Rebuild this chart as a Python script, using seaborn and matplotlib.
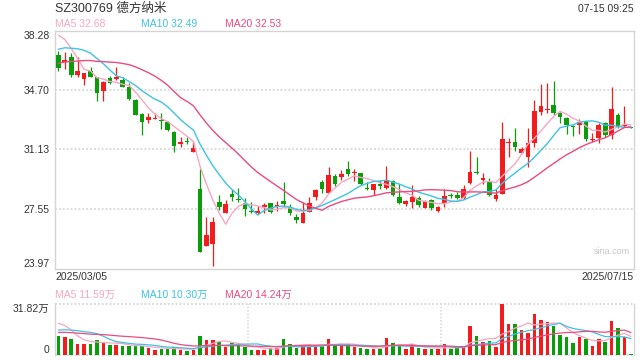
import numpy as np
import pandas as pd
import matplotlib
matplotlib.use("Agg")
import matplotlib.pyplot as plt
import seaborn as sns

sns.set_theme(style="white")
plt.rcParams["font.family"] = ["Liberation Sans", "Noto Sans CJK SC", "DejaVu Sans"]

# ---------------- data ----------------
title = "SZ300769 德方纳米"
stamp = "07-15 09:25"
date_labels = ["2025/03/05", "2025/07/15"]
price_ticks = [23.97, 27.55, 31.13, 34.70, 38.28]
vol_top = 31.82
ma_price_last = [32.68, 32.49, 32.53]
ma_vol_last = [11.59, 10.30, 14.24]
ma_windows = [5, 10, 20]

open_ = [36.81, 36.39, 36.70, 35.62, 35.34, 35.86, 35.46, 34.66, 35.42, 35.34,
         35.30, 34.86, 34.10, 33.26, 32.89, 32.97, 32.89, 32.77, 32.19, 31.45,
         31.65, 30.99, 28.72, 25.31, 25.43, 27.96, 27.31, 28.44, 28.16, 27.88,
         27.40, 27.31, 27.64, 27.88, 27.67, 28.02, 27.67, 27.07, 26.71, 27.37,
         28.24, 29.20, 28.52, 29.52, 29.48, 29.96, 29.69, 29.69, 28.80, 28.68,
         29.08, 28.84, 29.24, 28.24, 27.84, 27.98, 28.18, 27.58, 28.08, 27.43,
         27.88, 28.40, 28.38, 28.18, 29.12, 29.78, 29.32, 29.18, 28.12, 28.44,
         31.49, 31.57, 30.93, 30.68, 31.53, 33.39, 33.50, 33.80, 33.33, 32.99,
         32.53, 32.57, 32.81, 31.69, 31.79, 32.69, 31.99, 33.20, 32.53, 32.49]
high = [37.07, 36.99, 36.95, 36.67, 35.74, 36.06, 35.50, 35.26, 35.56, 36.06,
        35.46, 35.10, 34.14, 33.30, 33.33, 33.33, 33.30, 32.81, 32.23, 31.89,
        31.89, 31.61, 29.93, 27.04, 27.04, 28.40, 28.08, 28.74, 28.80, 28.22,
        27.96, 27.72, 27.92, 27.92, 28.00, 29.20, 27.84, 27.24, 27.98, 28.24,
        28.78, 29.32, 30.05, 29.64, 29.88, 30.41, 29.96, 29.72, 29.20, 29.08,
        29.32, 30.13, 29.32, 29.08, 28.10, 28.98, 28.32, 28.08, 28.12, 27.72,
        28.72, 28.52, 28.58, 28.98, 31.05, 30.65, 29.72, 29.44, 28.78, 32.79,
        31.79, 32.39, 31.25, 32.39, 34.10, 35.06, 35.10, 35.26, 33.39, 33.05,
        32.59, 32.93, 32.85, 32.09, 32.69, 32.79, 34.90, 33.30, 33.74, 32.49]
low = [35.86, 35.94, 35.46, 35.46, 35.00, 35.46, 34.02, 34.06, 35.06, 35.30,
       34.86, 34.10, 33.18, 31.97, 32.69, 32.94, 32.37, 32.25, 30.99, 31.29,
       31.45, 30.99, 24.97, 25.31, 24.11, 27.48, 27.31, 28.02, 27.96, 27.12,
       27.31, 27.24, 27.28, 27.28, 27.40, 27.64, 27.19, 26.68, 26.68, 27.37,
       28.08, 28.48, 28.52, 28.92, 29.32, 29.52, 29.24, 28.99, 28.68, 28.38,
       28.78, 28.72, 28.32, 27.84, 27.72, 27.58, 27.64, 27.58, 27.48, 27.37,
       27.67, 28.18, 28.12, 28.12, 29.08, 29.64, 29.04, 28.32, 28.04, 28.44,
       30.68, 31.05, 30.93, 30.08, 31.29, 33.20, 33.30, 33.20, 32.69, 32.05,
       31.93, 32.05, 31.65, 31.59, 31.53, 31.89, 31.73, 32.39, 32.49, 32.43]
close = [36.04, 36.51, 35.62, 35.86, 35.70, 35.50, 34.54, 35.20, 35.14, 35.46,
         34.90, 34.18, 33.21, 32.79, 33.06, 33.03, 32.83, 32.29, 31.33, 31.59,
         31.57, 31.21, 24.97, 25.97, 26.75, 27.64, 27.84, 28.24, 28.08, 27.55,
         27.34, 27.43, 27.76, 27.36, 27.76, 27.84, 27.31, 26.87, 27.31, 27.92,
         28.68, 28.76, 29.58, 29.08, 29.64, 29.64, 29.78, 29.08, 28.74, 29.04,
         28.96, 29.32, 28.38, 27.88, 28.04, 28.28, 27.78, 28.04, 27.58, 27.64,
         28.32, 28.32, 28.18, 28.72, 29.76, 29.72, 29.44, 28.38, 28.38, 31.73,
         31.57, 31.29, 31.17, 31.53, 33.44, 33.74, 33.56, 33.30, 33.06, 32.59,
         32.47, 32.77, 31.77, 31.77, 32.59, 31.99, 33.54, 32.53, 32.59, 32.43]
volume = [11.9, 11.3, 10.0, 7.1, 7.1, 7.1, 9.4, 8.2, 6.3, 6.3,
          5.6, 5.6, 5.6, 5.6, 4.2, 3.1, 3.8, 3.8, 5.0, 3.3,
          2.5, 3.3, 11.9, 9.4, 9.4, 8.4, 5.0, 7.3, 6.1, 5.0,
          3.3, 3.3, 3.3, 4.4, 4.4, 10.0, 6.9, 4.6, 6.3, 5.2,
          6.1, 5.9, 10.0, 5.9, 6.3, 6.7, 5.0, 4.4, 3.8, 3.8,
          3.8, 10.7, 7.5, 5.9, 3.8, 6.7, 4.4, 3.8, 3.8, 3.8,
          6.9, 3.8, 4.6, 4.6, 18.2, 11.9, 8.2, 8.8, 5.0, 31.82,
          19.5, 19.5, 15.7, 13.8, 25.7, 22.0, 20.7, 18.2, 12.6, 11.3,
          7.5, 11.3, 10.0, 5.6, 10.0, 8.2, 21.3, 16.9, 11.3, 0.6]
# closes / volumes of the 19 sessions before the window (estimated from MA starts)
prior_close = [34.8, 35.0, 35.3, 35.1, 35.5, 35.6, 35.4, 35.8, 35.9, 36.1,
               35.6, 35.9, 36.2, 36.6, 37.2, 37.8, 38.3, 38.9, 38.96]
prior_volume = [11, 14, 13, 12, 15, 12, 11, 13, 14, 12,
                10, 12, 11, 13, 11.5, 18, 24, 26, 19.6]

# ---------------- styling ----------------
RED = "#f21c1c"
GREEN = "#0a9d0a"
MA_COLORS = ["#f7a6c2", "#3ec3e3", "#ea4b80"]
SPINE = "#d4d4d4"
GRID = "#dcdcdc"
TXT = "#333333"

n = len(close)
idx = np.arange(n)
o = np.array(open_); c = np.array(close); h = np.array(high); l = np.array(low)
v = np.array(volume)
up = c >= o
colors = np.where(up, RED, GREEN)

pc = pd.Series(prior_close + close)
pv = pd.Series(prior_volume + volume)
ma_p = [pc.rolling(w).mean().iloc[-n:].to_numpy() for w in ma_windows]
ma_v = [pv.rolling(w).mean().iloc[-n:].to_numpy() for w in ma_windows]

W, H = 640, 360
fig = plt.figure(figsize=(6.4, 3.6), dpi=100)
fig.patch.set_facecolor("white")
L, R = 54.5, 633.5
ax = fig.add_axes([L / W, 1 - 268.5 / H, (R - L) / W, (268.5 - 30.5) / H])
axv = fig.add_axes([L / W, 1 - 355 / H, (R - L) / W, (355 - 304.3) / H])

xlim = (-0.6, n - 0.6)

# ---- price panel ----
for y in price_ticks[1:-1]:
    ax.axhline(y, color=GRID, lw=1.4, ls=(0, (1, 1)), zorder=0)
ax.vlines(idx, l, h, colors=colors, lw=0.9, zorder=2)
body = np.maximum(np.abs(c - o), 0.06)
ax.bar(idx, body, bottom=np.minimum(o, c), width=0.72, color=colors,
       linewidth=0, zorder=3)
for m, col in zip(ma_p, MA_COLORS):
    sns.lineplot(x=idx, y=m, ax=ax, color=col, linewidth=1.0, legend=False,
                 errorbar=None, zorder=4)
ax.set_xlim(*xlim)
ax.set_ylim(price_ticks[0], price_ticks[-1])
ax.set_yticks(price_ticks)
ax.set_yticklabels([f"{t:.2f}" for t in price_ticks])
ax.set_xticks([])
ax.tick_params(axis="y", length=0, pad=3.5, labelsize=7.5, labelcolor=TXT)
tl = ax.get_yticklabels()
tl[0].set_va("bottom")
tl[-1].set_va("top")
for s in ax.spines.values():
    s.set_color(SPINE); s.set_linewidth(1.0)
ax.set_ylabel(""); ax.set_xlabel("")

# ---- volume panel ----
axv.bar(idx, v, width=0.55, color=colors, linewidth=0, zorder=2)
for m, col in zip(ma_v, MA_COLORS):
    sns.lineplot(x=idx, y=m, ax=axv, color=col, linewidth=0.9, legend=False,
                 errorbar=None, zorder=4)
axv.set_xlim(*xlim)
axv.set_ylim(0, vol_top)
axv.axhline(vol_top, color=GRID, lw=1.4, ls=(0, (1, 1)), zorder=0, clip_on=False)
axv.axhline(0, color=GRID, lw=1.4, ls=(0, (1, 1)), zorder=0, clip_on=False)
for fx in (1 / 3, 2 / 3):
    axv.plot([fx, fx], [0, 1], transform=axv.transAxes, color=GRID, lw=1.2,
             ls=(0, (1, 1)), zorder=0)
axv.set_yticks([0, vol_top])
axv.set_yticklabels(["0", f"{vol_top:.2f}万"])
axv.set_xticks([])
axv.tick_params(axis="y", length=0, pad=3.5, labelsize=7.5, labelcolor=TXT)
vl = axv.get_yticklabels()
vl[0].set_va("bottom")
vl[-1].set_va("top")
axv.spines["top"].set_visible(False)
axv.spines["bottom"].set_visible(False)
for s in ("left", "right"):
    axv.spines[s].set_color(SPINE); axv.spines[s].set_linewidth(1.0)
axv.set_ylabel(""); axv.set_xlabel("")

# ---- texts ----
def ft(x, y, s, **kw):
    fig.text(x / W, 1 - y / H, s, **kw)

ft(55, 8.5, title, fontsize=9, color=TXT, va="center", ha="left")
ft(634, 9.5, stamp, fontsize=7.5, color=TXT, va="center", ha="right")
lab_x = [55, 141, 225]
for x, w, val, col in zip(lab_x, ma_windows, ma_price_last, MA_COLORS):
    ft(x, 24, f"MA{w} {val:.2f}", fontsize=7.5, color=col, va="center", ha="left")
for x, w, val, col in zip(lab_x, ma_windows, ma_vol_last, MA_COLORS):
    ft(x, 295, f"MA{w} {val:.2f}万", fontsize=7.5, color=col, va="center", ha="left")
ft(55, 277, date_labels[0], fontsize=7.5, color=TXT, va="center", ha="left")
ft(634, 277, date_labels[1], fontsize=7.5, color=TXT, va="center", ha="right")
ft(630, 252, "sina.com", fontsize=6.5, color="#c8c8c8", va="center", ha="right")

fig.savefig("out.png", dpi=100)
